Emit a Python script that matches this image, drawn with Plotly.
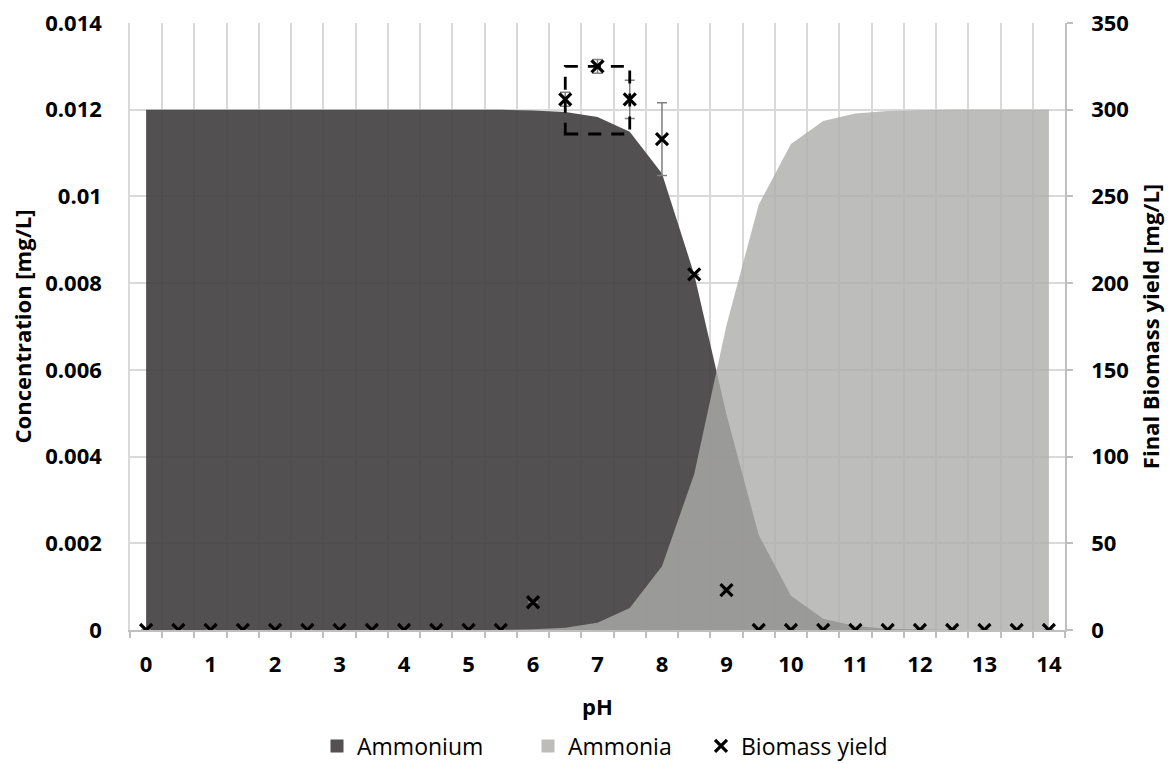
import plotly.graph_objects as go

# pH categories (0 to 14 in steps of 0.5)
ph = [0, 0.5, 1, 1.5, 2, 2.5, 3, 3.5, 4, 4.5, 5, 5.5, 6, 6.5, 7, 7.5,
      8, 8.5, 9, 9.5, 10, 10.5, 11, 11.5, 12, 12.5, 13, 13.5, 14]

# Ammonium / ammonia concentration [mg/L]
ammonium = [0.012, 0.012, 0.012, 0.012, 0.012, 0.012, 0.012, 0.012, 0.012, 0.012,
            0.012, 0.012, 0.01198, 0.01195, 0.01183, 0.01149, 0.01053, 0.0082,
            0.00497, 0.00219, 0.00079, 0.00026, 0.00009, 0.00003, 0.00001,
            0, 0, 0, 0]
ammonia = [0, 0, 0, 0, 0, 0, 0, 0, 0, 0, 0, 0, 0.00002, 0.00005, 0.00017, 0.00051,
           0.00147, 0.0036, 0.00703, 0.00981, 0.01121, 0.01174, 0.01191, 0.01197,
           0.01199, 0.012, 0.012, 0.012, 0.012]

# Final biomass yield [mg/L] with standard deviation
biomass = [0, 0, 0, 0, 0, 0, 0, 0, 0, 0, 0, 0, 16, 306, 325, 306, 283, 205, 23,
           0, 0, 0, 0, 0, 0, 0, 0, 0, 0]
biomass_err = [None] * 13 + [4, 4, 11, 21] + [None] * 12

conc_ticks = [0, 0.002, 0.004, 0.006, 0.008, 0.01, 0.012, 0.014]
conc_labels = ["0", "0.002", "0.004", "0.006", "0.008", "0.01", "0.012", "0.014"]
yield_ticks = [0, 50, 100, 150, 200, 250, 300, 350]
ph_ticks = [0, 1, 2, 3, 4, 5, 6, 7, 8, 9, 10, 11, 12, 13, 14]

FONT = "Open Sans"
AMMONIUM_FILL = "rgba(63,61,61,0.9)"
AMMONIA_FILL = "rgba(173,172,171,0.8)"
GRID = "#d9d9d9"
AXIS = "#bfbfbf"
W, H = 1172, 764
ML, MR, MT, MB = 130, 107, 23, 134
PW, PH_ = W - ML - MR, H - MT - MB

bold = dict(size=22, family=FONT, weight="bold")

fig = go.Figure()

fig.add_trace(go.Scatter(
    x=ph, y=ammonium, mode="none", fill="tozeroy", fillcolor=AMMONIUM_FILL,
    showlegend=False, hoverinfo="skip"))
fig.add_trace(go.Scatter(
    x=ph, y=ammonia, mode="none", fill="tozeroy", fillcolor=AMMONIA_FILL,
    showlegend=False, hoverinfo="skip"))

# legend swatches for the two areas
fig.add_trace(go.Scatter(
    x=[None], y=[None], mode="markers", name="Ammonium", legend="legend",
    marker=dict(symbol="square", size=13, color="#525050")))
fig.add_trace(go.Scatter(
    x=[None], y=[None], mode="markers", name="Ammonia", legend="legend2",
    marker=dict(symbol="square", size=13, color="#bdbcbb")))

fig.add_trace(go.Scatter(
    x=ph, y=biomass, yaxis="y2", mode="markers", name="Biomass yield",
    legend="legend3",
    marker=dict(symbol="x-thin", size=12, color="black",
                line=dict(color="black", width=3.2)),
    error_y=dict(type="data", array=biomass_err, visible=True,
                 color="#7f7f7f", thickness=1.5, width=5)))

# dashed box around the optimum region
fig.add_shape(type="rect", xref="x", yref="y2", x0=6.5, x1=7.5, y0=286, y1=325,
              line=dict(color="black", width=2.8, dash="13px,10px"),
              fillcolor="rgba(0,0,0,0)")


def legend_at(px_left, px_mid_y=746):
    return dict(xref="paper", x=(px_left - ML) / PW, xanchor="left",
                yref="container", y=(H - px_mid_y) / H, yanchor="middle",
                font=dict(size=23, family=FONT), itemwidth=30,
                bgcolor="rgba(0,0,0,0)", borderwidth=0)


fig.update_layout(
    width=W, height=H,
    margin=dict(l=ML, r=MR, t=MT, b=MB, autoexpand=False),
    paper_bgcolor="white", plot_bgcolor="white",
    font=dict(family=FONT, color="black", size=22),
    showlegend=True,
    legend=legend_at(317),
    legend2=legend_at(528),
    legend3=legend_at(701),
    xaxis=dict(
        range=[-0.25, 14.25], tickmode="array", tickvals=ph_ticks,
        ticks="", showgrid=False, zeroline=False, automargin=False,
        showline=True, linecolor=AXIS, linewidth=1.5,
        tickfont=bold, ticklabelstandoff=14,
        minor=dict(tick0=0.25, dtick=0.5, showgrid=True, gridcolor=GRID,
                   gridwidth=1.5, ticks="outside", ticklen=6,
                   tickcolor=AXIS, tickwidth=1.5),
        title=dict(text="pH", font=bold, standoff=22)),
    yaxis=dict(
        range=[0, 0.014], tickmode="array", tickvals=conc_ticks,
        ticktext=conc_labels, showgrid=True, gridcolor=GRID, gridwidth=1.5,
        zeroline=False, showline=True, linecolor=GRID, linewidth=1.5,
        ticks="", ticklabelstandoff=22, tickfont=bold, automargin=False,
        title=dict(text="Concentration [mg/L]", font=bold, standoff=8)),
    yaxis2=dict(
        range=[0, 350], tickmode="array", tickvals=yield_ticks,
        overlaying="y", side="right", showgrid=False, zeroline=False,
        showline=True, linecolor=AXIS, linewidth=1.5, automargin=False,
        ticks="outside", ticklen=6, tickcolor=AXIS, tickwidth=1.5,
        ticklabelstandoff=14, tickfont=bold,
        title=dict(text="Final Biomass yield [mg/L]", font=bold, standoff=16)),
)

fig.write_html("out.html")
